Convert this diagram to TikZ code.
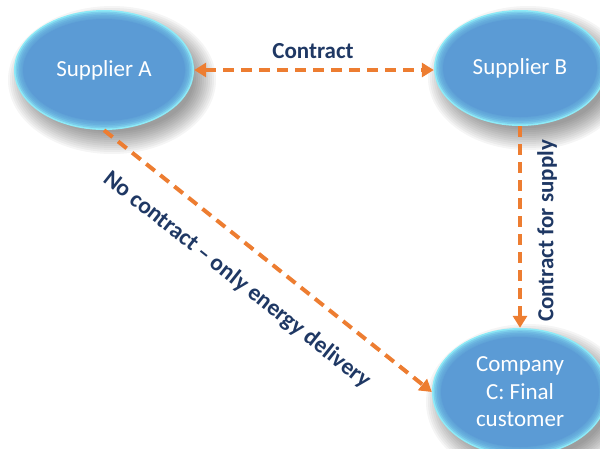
\documentclass[tikz,border=0pt]{standalone}
\usepackage{fontspec}
\setmainfont{Carlito}
\usetikzlibrary{arrows.meta,shapes.geometric}
\definecolor{blueF}{HTML}{5B9BD5}
\definecolor{glowc}{HTML}{8EEAF7}
\definecolor{navy}{HTML}{1F3864}
\definecolor{orng}{HTML}{ED7D31}
\newcommand\glowellipse[4]{%
  \begin{scope}[shift={(#1,#2)}]
    \foreach \i in {0,...,11}{%
      \pgfmathsetmacro\rxx{#3+14-2*\i}%
      \pgfmathsetmacro\ryy{#4+14-2*\i}%
      \fill[black,opacity=0.04] (8,10) ellipse [x radius=\rxx, y radius=\ryy];
    }
    \fill[glowc] (0,0) ellipse [x radius=#3, y radius=#4];
    \foreach \i in {1,...,5}{%
      \pgfmathsetmacro\rxx{#3-1.6*\i}%
      \pgfmathsetmacro\ryy{#4-1.6*\i}%
      \fill[blueF,opacity=0.35] (0,0) ellipse [x radius=\rxx, y radius=\ryy];
    }
    \pgfmathsetmacro\rxx{#3-9}%
    \pgfmathsetmacro\ryy{#4-9}%
    \fill[blueF] (0,0) ellipse [x radius=\rxx, y radius=\ryy];
  \end{scope}}
\tikzset{
  party/.style={ellipse, inner sep=0pt, text=white, align=center, font=\fontsize{23}{27.5}\selectfont},
  conn/.style={orng, line width=4pt, dash pattern=on 11pt off 7pt, arrows={-Triangle[length=12pt,width=14pt]}},
  lbl/.style={navy, font=\fontsize{23}{27}\selectfont\bfseries, inner sep=0pt}
}
\begin{document}
\begin{tikzpicture}[x=1pt,y=-1pt]
\useasboundingbox (0,0) rectangle (600,448);
\clip (0,0) rectangle (600,448);
\glowellipse{104}{70}{90}{60}
\glowellipse{520}{68}{86}{58}
\glowellipse{520}{392}{88}{64}
\node[party, minimum width=180pt, minimum height=120pt] (A) at (104,70) {Supplier A};
\node[party, minimum width=172pt, minimum height=116pt] (B) at (520,68) {Supplier B};
\node[party, minimum width=176pt, minimum height=128pt] (C) at (520,392) {Company\\C: Final\\customer};
\draw[conn, arrows={Triangle[length=12pt,width=14pt]-Triangle[length=12pt,width=14pt]}] (A.east) -- (A.east -| B.west);
\draw[conn] (B.south) -- (C.north);
\draw[conn] (A.south) -- (C.west);
\node[lbl] (l1) at (313,51) {Contract};
\node[lbl, rotate=90] (l2) at (547,231) {Contract for supply};
\node[lbl, rotate=-38.4, font=\fontsize{23.5}{27}\selectfont\bfseries] (l3) at (237,280) {No contract – only energy delivery};
\end{tikzpicture}
\end{document}
